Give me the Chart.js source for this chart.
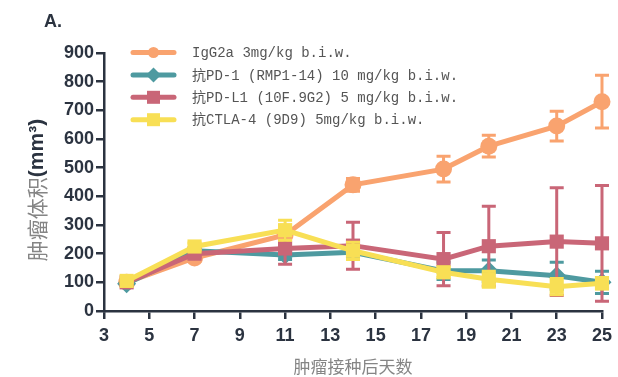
<!DOCTYPE html>
<html>
<head>
<meta charset="utf-8">
<script src="https://cdn.jsdelivr.net/npm/chart.js@4.4.1/dist/chart.umd.min.js"></script>
<style>
  html, body { margin: 0; padding: 0; background: #ffffff; }
  #wrap { width: 618px; height: 377px; }
</style>
</head>
<body>
<div id="wrap"><canvas id="chart" width="618" height="377"></canvas></div>
<script>
// Days after tumour inoculation
const days = [4, 7, 11, 14, 18, 20, 23, 25];

// Mean tumour volume (mm³) and error per group
const iggMean  = [100, 185, 265, 440, 495, 575, 645, 730];
const iggErr   = [8, 12, 18, 22, 45, 38, 52, 92];
const pd1Mean  = [95, 210, 195, 205, 140, 140, 123, 100];
const pd1Err   = [5, 10, 15, 15, 30, 38, 47, 39];
const pdl1Mean = [100, 200, 218, 228, 181, 226, 242, 236];
const pdl1Err  = [5, 12, 55, 82, 93, 139, 188, 202];
const ctlaMean = [105, 225, 282, 210, 135, 111, 85, 97];
const ctlaErr  = [5, 12, 35, 30, 18, 28, 28, 20];

const groupNames = [
  'IgG2a 3mg/kg b.i.w.',
  '抗PD-1 (RMP1-14) 10 mg/kg b.i.w.',
  '抗PD-L1 (10F.9G2) 5 mg/kg b.i.w.',
  '抗CTLA-4 (9D9) 5mg/kg b.i.w.'
];

const xTicks = [3, 5, 7, 9, 11, 13, 15, 17, 19, 21, 23, 25];
const yTicks = [0, 100, 200, 300, 400, 500, 600, 700, 800, 900];

const AXIS = '#2b3340';
const groupColors = ['#f9a36f', '#4e9aa0', '#c96677', '#f8df55'];
const groupShapes = ['circle', 'rectRot', 'rect', 'rect'];
const groupRadii  = [8.5, 9.5, 10, 10];

const means = [iggMean, pd1Mean, pdl1Mean, ctlaMean];
const errs  = [iggErr, pd1Err, pdl1Err, ctlaErr];

// later groups are painted over earlier ones (lower order = drawn on top)
const datasets = means.map((m, i) => ({
  label: groupNames[i],
  data: days.map((d, j) => ({ x: d, y: m[j] })),
  errors: errs[i],
  order: means.length - 1 - i,
  borderColor: groupColors[i],
  backgroundColor: groupColors[i],
  borderWidth: 5,
  tension: 0,
  pointStyle: groupShapes[i],
  pointRadius: groupRadii[i],
  pointHoverRadius: groupRadii[i],
  pointBorderWidth: 0,
  pointBackgroundColor: groupColors[i],
  clip: false
}));

// Vertical error bars with caps, drawn beneath each series' line
const errorBars = {
  id: 'errorBars',
  beforeDatasetDraw(chart, args) {
    const ds = chart.data.datasets[args.index];
    const ys = chart.scales.y, xs = chart.scales.x;
    const ctx = chart.ctx;
    ctx.save();
    ctx.strokeStyle = ds.borderColor;
    ctx.lineWidth = 3;
    ctx.lineCap = 'butt';
    ds.data.forEach((p, j) => {
      const e = ds.errors[j];
      const px = xs.getPixelForValue(p.x);
      const top = ys.getPixelForValue(p.y + e);
      const bot = ys.getPixelForValue(Math.max(0, p.y - e));
      ctx.beginPath();
      ctx.moveTo(px, top); ctx.lineTo(px, bot);
      ctx.moveTo(px - 7, top); ctx.lineTo(px + 7, top);
      ctx.moveTo(px - 7, bot); ctx.lineTo(px + 7, bot);
      ctx.stroke();
    });
    ctx.restore();
  }
};

function drawMarker(ctx, shape, x, y, r) {
  ctx.beginPath();
  if (shape === 'circle') {
    ctx.arc(x, y, r, 0, Math.PI * 2);
  } else if (shape === 'rectRot') {
    ctx.moveTo(x, y - r); ctx.lineTo(x + r, y); ctx.lineTo(x, y + r); ctx.lineTo(x - r, y);
    ctx.closePath();
  } else {
    ctx.rect(x - r, y - r, 2 * r, 2 * r);
  }
  ctx.fill();
}

// Panel letter, axis titles and legend
const decorations = {
  id: 'decorations',
  afterDraw(chart) {
    const ctx = chart.ctx;
    ctx.save();

    // panel letter
    ctx.fillStyle = AXIS;
    ctx.font = 'bold 18px "Liberation Sans", Arial, sans-serif';
    ctx.textAlign = 'left';
    ctx.textBaseline = 'alphabetic';
    ctx.fillText('A.', 44, 27);

    // x-axis title
    ctx.fillStyle = '#858585';
    ctx.font = '17px "Noto Sans CJK SC", sans-serif';
    ctx.textAlign = 'center';
    ctx.textBaseline = 'middle';
    ctx.fillText('肿瘤接种后天数', (chart.chartArea.left + chart.chartArea.right) / 2, 367);

    // y-axis title: Chinese part plus bold unit
    const partA = '肿瘤体积';
    const partB = '(mm³)';
    const fontA = '21px "Noto Sans CJK SC", sans-serif';
    const fontB = 'bold 21px "Liberation Sans", Arial, sans-serif';
    ctx.font = fontA; const wA = ctx.measureText(partA).width;
    ctx.font = fontB; const wB = ctx.measureText(partB).width;
    ctx.translate(37, 190);
    ctx.rotate(-Math.PI / 2);
    ctx.textAlign = 'left';
    ctx.textBaseline = 'middle';
    const start = -(wA + wB) / 2;
    ctx.font = fontA; ctx.fillStyle = '#858585';
    ctx.fillText(partA, start, 0);
    ctx.font = fontB; ctx.fillStyle = AXIS;
    ctx.fillText(partB, start + wA, 0);
    ctx.setTransform(1, 0, 0, 1, 0, 0);

    // legend
    const legR = [5.5, 7.5, 6.5, 6.5];
    chart.data.datasets.forEach((ds, i) => {
      const y = 52.5 + i * 22.4;
      ctx.strokeStyle = ds.borderColor;
      ctx.lineWidth = 5;
      ctx.lineCap = 'round';
      ctx.beginPath();
      ctx.moveTo(133, y); ctx.lineTo(174, y);
      ctx.stroke();
      ctx.fillStyle = ds.borderColor;
      drawMarker(ctx, groupShapes[i], 153.5, y, legR[i]);
      ctx.fillStyle = '#555555';
      ctx.font = '14px "Liberation Mono", "Noto Sans CJK SC", monospace';
      ctx.textAlign = 'left';
      ctx.textBaseline = 'middle';
      ctx.fillText(ds.label, 192, y + 1);
    });
    ctx.restore();
  }
};

const tickFont = { family: '"Liberation Sans", Arial, sans-serif', size: 18, weight: 'bold' };

new Chart(document.getElementById('chart'), {
  type: 'line',
  data: { datasets },
  options: {
    responsive: false,
    animation: false,
    devicePixelRatio: 1,
    layout: { padding: { left: 44, top: 53, right: 13, bottom: 0 } },
    plugins: { legend: { display: false }, tooltip: { enabled: false } },
    scales: {
      x: {
        type: 'linear',
        min: 3, max: 25,
        afterBuildTicks: s => { s.ticks = xTicks.map(v => ({ value: v })); },
        afterFit: s => { s.height = 66; },
        ticks: { font: tickFont, color: AXIS, padding: 6, maxRotation: 0 },
        grid: { drawOnChartArea: false, drawTicks: true, tickLength: 8, color: AXIS, lineWidth: 2.5 },
        border: { display: true, color: AXIS, width: 2.5 }
      },
      y: {
        min: 0, max: 900,
        afterBuildTicks: s => { s.ticks = yTicks.map(v => ({ value: v })); },
        afterFit: s => { s.width = 60; },
        ticks: { font: tickFont, color: AXIS, padding: 2 },
        grid: { drawOnChartArea: false, drawTicks: true, tickLength: 8, color: AXIS, lineWidth: 2.5 },
        border: { display: true, color: AXIS, width: 2.5 }
      }
    }
  },
  plugins: [errorBars, decorations]
});
</script>
</body>
</html>
